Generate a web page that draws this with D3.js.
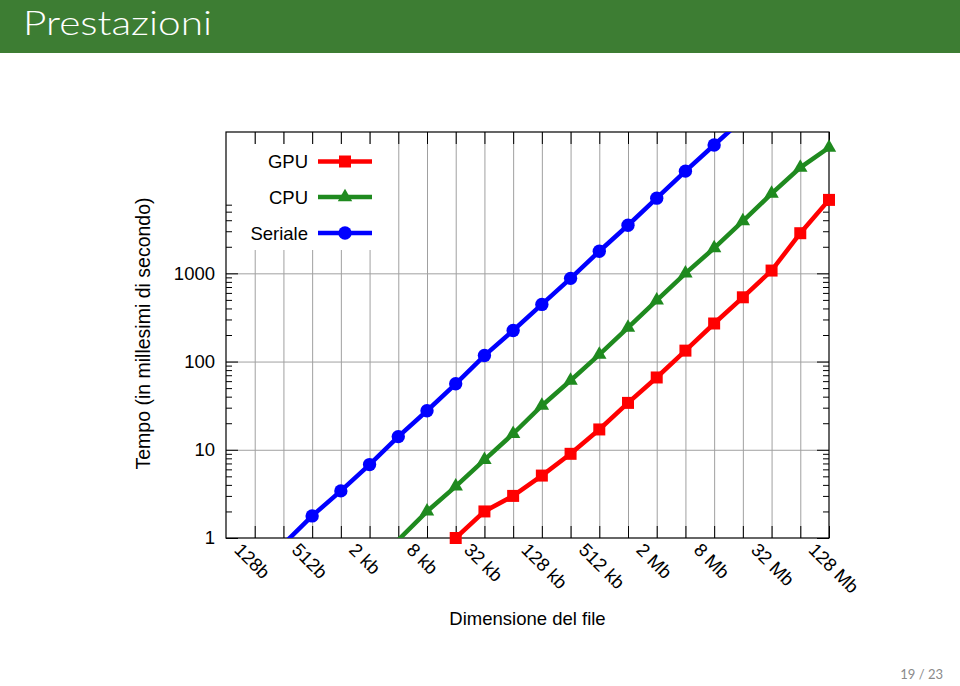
<!DOCTYPE html>
<html><head><meta charset="utf-8">
<script src="https://cdn.jsdelivr.net/npm/d3@7"></script>
<style>
html,body{margin:0;padding:0;background:#fff;}
svg{display:block;}
</style></head><body>
<svg id="chart" width="960" height="686"></svg>
<script>
// ---- data ----
const sizes = [128, 256, 512, 1024, 2048, 4096, 8192, 16384, 32768, 65536, 131072,
  262144, 524288, 1048576, 2097152, 4194304, 8388608, 16777216, 33554432, 67108864, 134217728];
const tickSizes = [128, 512, 2048, 8192, 32768, 131072, 524288, 2097152, 8388608, 33554432, 134217728];
const tickLabels = ["128b", "512b", "2 kb", "8 kb", "32 kb", "128 kb", "512 kb", "2 Mb", "8 Mb", "32 Mb", "128 Mb"];
const yTickValues = [1, 10, 100, 1000];
const yTickLabels = ["1", "10", "100", "1000"];
const gpu = [null, null, null, null, null, null, null, 1.0, 2.0, 3.0, 5.1, 9.0, 17, 34, 66, 133, 270, 535, 1075, 2850, 6800];
const cpu = [null, null, null, null, null, 0.95, 2.0, 3.85, 7.7, 15.2, 31.6, 61, 120, 243, 493, 1000, 1930, 3900, 8000, 15800, 26700];
const seriale = [null, 0.85, 1.78, 3.42, 6.8, 14.1, 27.7, 56, 117, 225, 444, 877, 1780, 3510, 7110, 14400, 28500, 56000, null, null, null];
const seriesNames = ["GPU", "CPU", "Seriale"];
const seriesColors = ["#ff0000", "#1f8a1f", "#0000ff"];
const seriesShapes = ["square", "triangle", "circle"];
const seriesData = [gpu, cpu, seriale];
const title = "Prestazioni";
const xTitle = "Dimensione del file";
const yTitle = "Tempo (in millesimi di secondo)";
const pageLabel = "19 / 23";

// ---- layout ----
const L = 226, R = 829, T = 132, B = 538;
const svg = d3.select("#chart");
const FONT = '"Liberation Sans", Arial, Helvetica, sans-serif';
const FS = 18.5;

// title bar
svg.append("rect").attr("x", 0).attr("y", 0).attr("width", 960).attr("height", 53).attr("fill", "#3d7d33");
svg.append("text").attr("x", 23).attr("y", 35).text(title)
  .attr("fill", "#fff").attr("font-family", 'Lato, "Open Sans", sans-serif').attr("font-weight", 300)
  .attr("font-size", 34).attr("textLength", 189).attr("lengthAdjust", "spacingAndGlyphs");
svg.append("text").attr("x", 943).attr("y", 679).attr("text-anchor", "end").text(pageLabel)
  .attr("fill", "#8a8a8a").attr("font-family", 'Lato, "Open Sans", sans-serif').attr("font-size", 13);

const x = d3.scaleLog().base(2).domain([64, 134217728]).range([L, R]);
const y = d3.scaleLog().domain([1, 40000]).range([B, T]);

const g = svg.append("g");

// grid
const gridX = g.append("g").attr("transform", `translate(0,${B})`)
  .call(d3.axisBottom(x).tickValues(sizes.slice(0, -1)).tickSizeInner(-(B - T)).tickSizeOuter(0).tickFormat(""));
const gridY = g.append("g").attr("transform", `translate(${L},0)`)
  .call(d3.axisLeft(y).tickValues(yTickValues.slice(1)).tickSizeInner(-(R - L)).tickSizeOuter(0).tickFormat(""));
[gridX, gridY].forEach(s => { s.select(".domain").remove(); s.selectAll("line").attr("stroke", "#a0a0a0").attr("stroke-width", 1); });

// opaque key background
g.append("rect").attr("x", L + 1).attr("y", 144).attr("width", 159).attr("height", 106).attr("fill", "#fff");

// minor y ticks
const minorY = [2,3,4,5,6,7,8,9,20,30,40,50,60,70,80,90,200,300,400,500,600,700,800,900,2000,3000,4000,5000,6000];

function styleAxis(s) {
  s.select(".domain").remove();
  s.selectAll("line").attr("stroke", "#000").attr("stroke-width", 1);
  s.selectAll("text").attr("font-family", FONT).attr("font-size", FS).attr("fill", "#000");
}
// left axis
styleAxis(g.append("g").attr("transform", `translate(${L},0)`)
  .call(d3.axisLeft(y).tickValues(yTickValues).tickFormat((d, i) => yTickLabels[i]).tickSizeInner(-12).tickSizeOuter(0).tickPadding(11)));
styleAxis(g.append("g").attr("transform", `translate(${L},0)`)
  .call(d3.axisLeft(y).tickValues(minorY).tickFormat("").tickSizeInner(-6).tickSizeOuter(0)));
// right axis
styleAxis(g.append("g").attr("transform", `translate(${R},0)`)
  .call(d3.axisRight(y).tickValues(yTickValues).tickFormat("").tickSizeInner(-12).tickSizeOuter(0)));
styleAxis(g.append("g").attr("transform", `translate(${R},0)`)
  .call(d3.axisRight(y).tickValues(minorY).tickFormat("").tickSizeInner(-6).tickSizeOuter(0)));
// top axis
styleAxis(g.append("g").attr("transform", `translate(0,${T})`)
  .call(d3.axisTop(x).tickValues(sizes).tickFormat("").tickSizeInner(-12).tickSizeOuter(0)));
// bottom axis
const xAx = g.append("g").attr("transform", `translate(0,${B})`)
  .call(d3.axisBottom(x).tickValues(sizes).tickFormat(d => { const i = tickSizes.indexOf(d); return i >= 0 ? tickLabels[i] : ""; })
  .tickSizeInner(-12).tickSizeOuter(0));
styleAxis(xAx);
xAx.selectAll("text").attr("y", 0).attr("dy", 0).attr("text-anchor", "start")
  .attr("transform", "translate(-22,13) rotate(45)");

// frame
g.append("rect").attr("x", L).attr("y", T).attr("width", R - L).attr("height", B - T)
  .attr("fill", "none").attr("stroke", "#000").attr("stroke-width", 1.2);

// axis titles
svg.append("text").attr("x", 527.5).attr("y", 625).attr("text-anchor", "middle").text(xTitle)
  .attr("font-family", FONT).attr("font-size", FS);
svg.append("text").attr("transform", "translate(150,333.5) rotate(-90)").attr("text-anchor", "middle").text(yTitle)
  .attr("font-family", FONT).attr("font-size", 19.5);

// clip
svg.append("defs").append("clipPath").attr("id", "plotclip")
  .append("rect").attr("x", L).attr("y", T).attr("width", R - L).attr("height", B - T);

const symGen = {
  square: d3.symbol().type(d3.symbolSquare).size(144),
  triangle: d3.symbol().type(d3.symbolTriangle).size(90),
  circle: d3.symbol().type(d3.symbolCircle).size(140)
};

const line = d3.line().defined(d => d.v != null).x(d => x(d.s)).y(d => y(d.v));
seriesData.forEach((arr, k) => {
  const pts = sizes.map((s, i) => ({ s, v: arr[i] }));
  g.append("path").datum(pts).attr("clip-path", "url(#plotclip)").attr("d", line)
    .attr("fill", "none").attr("stroke", seriesColors[k]).attr("stroke-width", 4.5)
    .attr("stroke-linejoin", "miter");
  g.append("g").selectAll("path").data(pts.filter(d => d.v != null && d.v >= 1 && d.v <= 40000))
    .join("path").attr("transform", d => `translate(${x(d.s)},${y(d.v)})`)
    .attr("d", symGen[seriesShapes[k]]()).attr("fill", seriesColors[k]);
});

// legend
const legY = [161.5, 197, 233];
seriesNames.forEach((n, k) => {
  const lg = g.append("g").attr("transform", `translate(0,${legY[k]})`);
  lg.append("text").attr("x", 308).attr("y", 6.5).attr("text-anchor", "end").text(n)
    .attr("font-family", FONT).attr("font-size", FS);
  lg.append("line").attr("x1", 318).attr("x2", 372).attr("stroke", seriesColors[k]).attr("stroke-width", 4.5);
  lg.append("path").attr("transform", "translate(345,0)").attr("d", symGen[seriesShapes[k]]()).attr("fill", seriesColors[k]);
});
</script>
</body></html>
